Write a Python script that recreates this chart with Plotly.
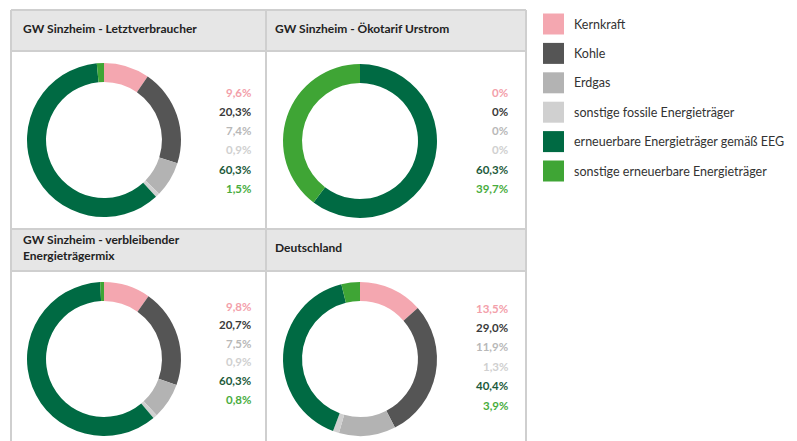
import plotly.graph_objects as go

OFF = 8  # page body margin offset
W, H = 797 - OFF, 441 - OFF

categories = ["Kernkraft", "Kohle", "Erdgas", "sonstige fossile Energieträger",
              "erneuerbare Energieträger gemäß EEG", "sonstige erneuerbare Energieträger"]
colors = ["#f4a7b0", "#555555", "#b3b3b3", "#d0d0d0", "#006a43", "#3fa535"]
label_colors = ["#f3a0aa", "#3a3a3a", "#b8b8b8", "#d0d0d0", "#1d5a3b", "#49ad3e"]

panel_titles = ["GW Sinzheim - Letztverbraucher", "GW Sinzheim - Ökotarif Urstrom",
                "GW Sinzheim - verbleibender<br>Energieträgermix", "Deutschland"]
letztverbraucher = [9.6, 20.3, 7.4, 0.9, 60.3, 1.5]
oekotarif = [0, 0, 0, 0, 60.3, 39.7]
verbleibend = [9.8, 20.7, 7.5, 0.9, 60.3, 0.8]
deutschland = [13.5, 29.0, 11.9, 1.3, 40.4, 3.9]
series = [letztverbraucher, oekotarif, verbleibend, deutschland]


def px(x):
    return (x - OFF) / W


def py(y):
    return 1 - (y - OFF) / H


def fmt(v):
    if v == 0:
        return "0%"
    return f"{v:.1f}".replace(".", ",") + "%"


fig = go.Figure()

# layout geometry (pixels in the screenshot)
centers = [(104, 140), (360, 141), (104, 359), (360, 359)]
R = 77
label_right = [253, 510, 253, 510]
label_start = [92, 92, 306, 308]
label_step = [19.3, 19.3, 18.6, 19.4]
title_pos = [(21, 29), (273, 29), (21, 248), (273, 247)]

for i, vals in enumerate(series):
    cx, cy = centers[i]
    fig.add_trace(go.Pie(
        values=vals, labels=categories, sort=False, direction="clockwise", rotation=0,
        hole=0.753, textinfo="none", showlegend=False,
        marker=dict(colors=colors, line=dict(width=0)),
        domain=dict(x=[px(cx - R), px(cx + R)], y=[py(cy + R), py(cy - R)]),
    ))
    for j, v in enumerate(vals):
        fig.add_annotation(
            x=px(label_right[i]), y=py(label_start[i] + j * label_step[i]),
            xref="paper", yref="paper", xanchor="right", yanchor="middle",
            text=f"<b>{fmt(v)}</b>", showarrow=False,
            font=dict(family="Lato", size=11.5, color=label_colors[j]),
        )
    tx, ty = title_pos[i]
    fig.add_annotation(
        x=px(tx), y=py(ty), xref="paper", yref="paper", xanchor="left", yanchor="middle",
        text=f"<b>{panel_titles[i]}</b>", showarrow=False, align="left",
        font=dict(family="Lato", size=12, color="#222222"),
    )

shapes = []
grid = "#cfcfcf"
# header backgrounds
for (y0, y1) in [(11, 51), (229, 271)]:
    shapes.append(dict(type="rect", xref="paper", yref="paper", x0=px(11), x1=px(526),
                       y0=py(y1), y1=py(y0), fillcolor="#e6e6e6", line=dict(width=0), layer="below"))
# horizontal lines
for y in [10, 51, 229, 271]:
    shapes.append(dict(type="line", xref="paper", yref="paper", x0=px(11), x1=px(526),
                       y0=py(y), y1=py(y), line=dict(color=grid, width=2)))
# vertical lines
for x in [11, 266, 526]:
    shapes.append(dict(type="line", xref="paper", yref="paper", x0=px(x), x1=px(x),
                       y0=py(10), y1=py(450), line=dict(color=grid, width=2)))

# legend
leg_y0, leg_step = 24, 29.4
for j, cat in enumerate(categories):
    yc = leg_y0 + j * leg_step
    shapes.append(dict(type="rect", xref="paper", yref="paper", x0=px(543), x1=px(564),
                       y0=py(yc + 10.5), y1=py(yc - 10.5), fillcolor=colors[j], line=dict(width=0)))
    fig.add_annotation(x=px(572), y=py(yc), xref="paper", yref="paper", xanchor="left",
                       yanchor="middle", text=cat, showarrow=False,
                       font=dict(family="Lato", size=12.5, color="#333333"))

fig.update_layout(
    width=W, height=H, margin=dict(l=0, r=0, t=0, b=0),
    paper_bgcolor="white", plot_bgcolor="white", shapes=shapes,
)

fig.write_html("out.html")
